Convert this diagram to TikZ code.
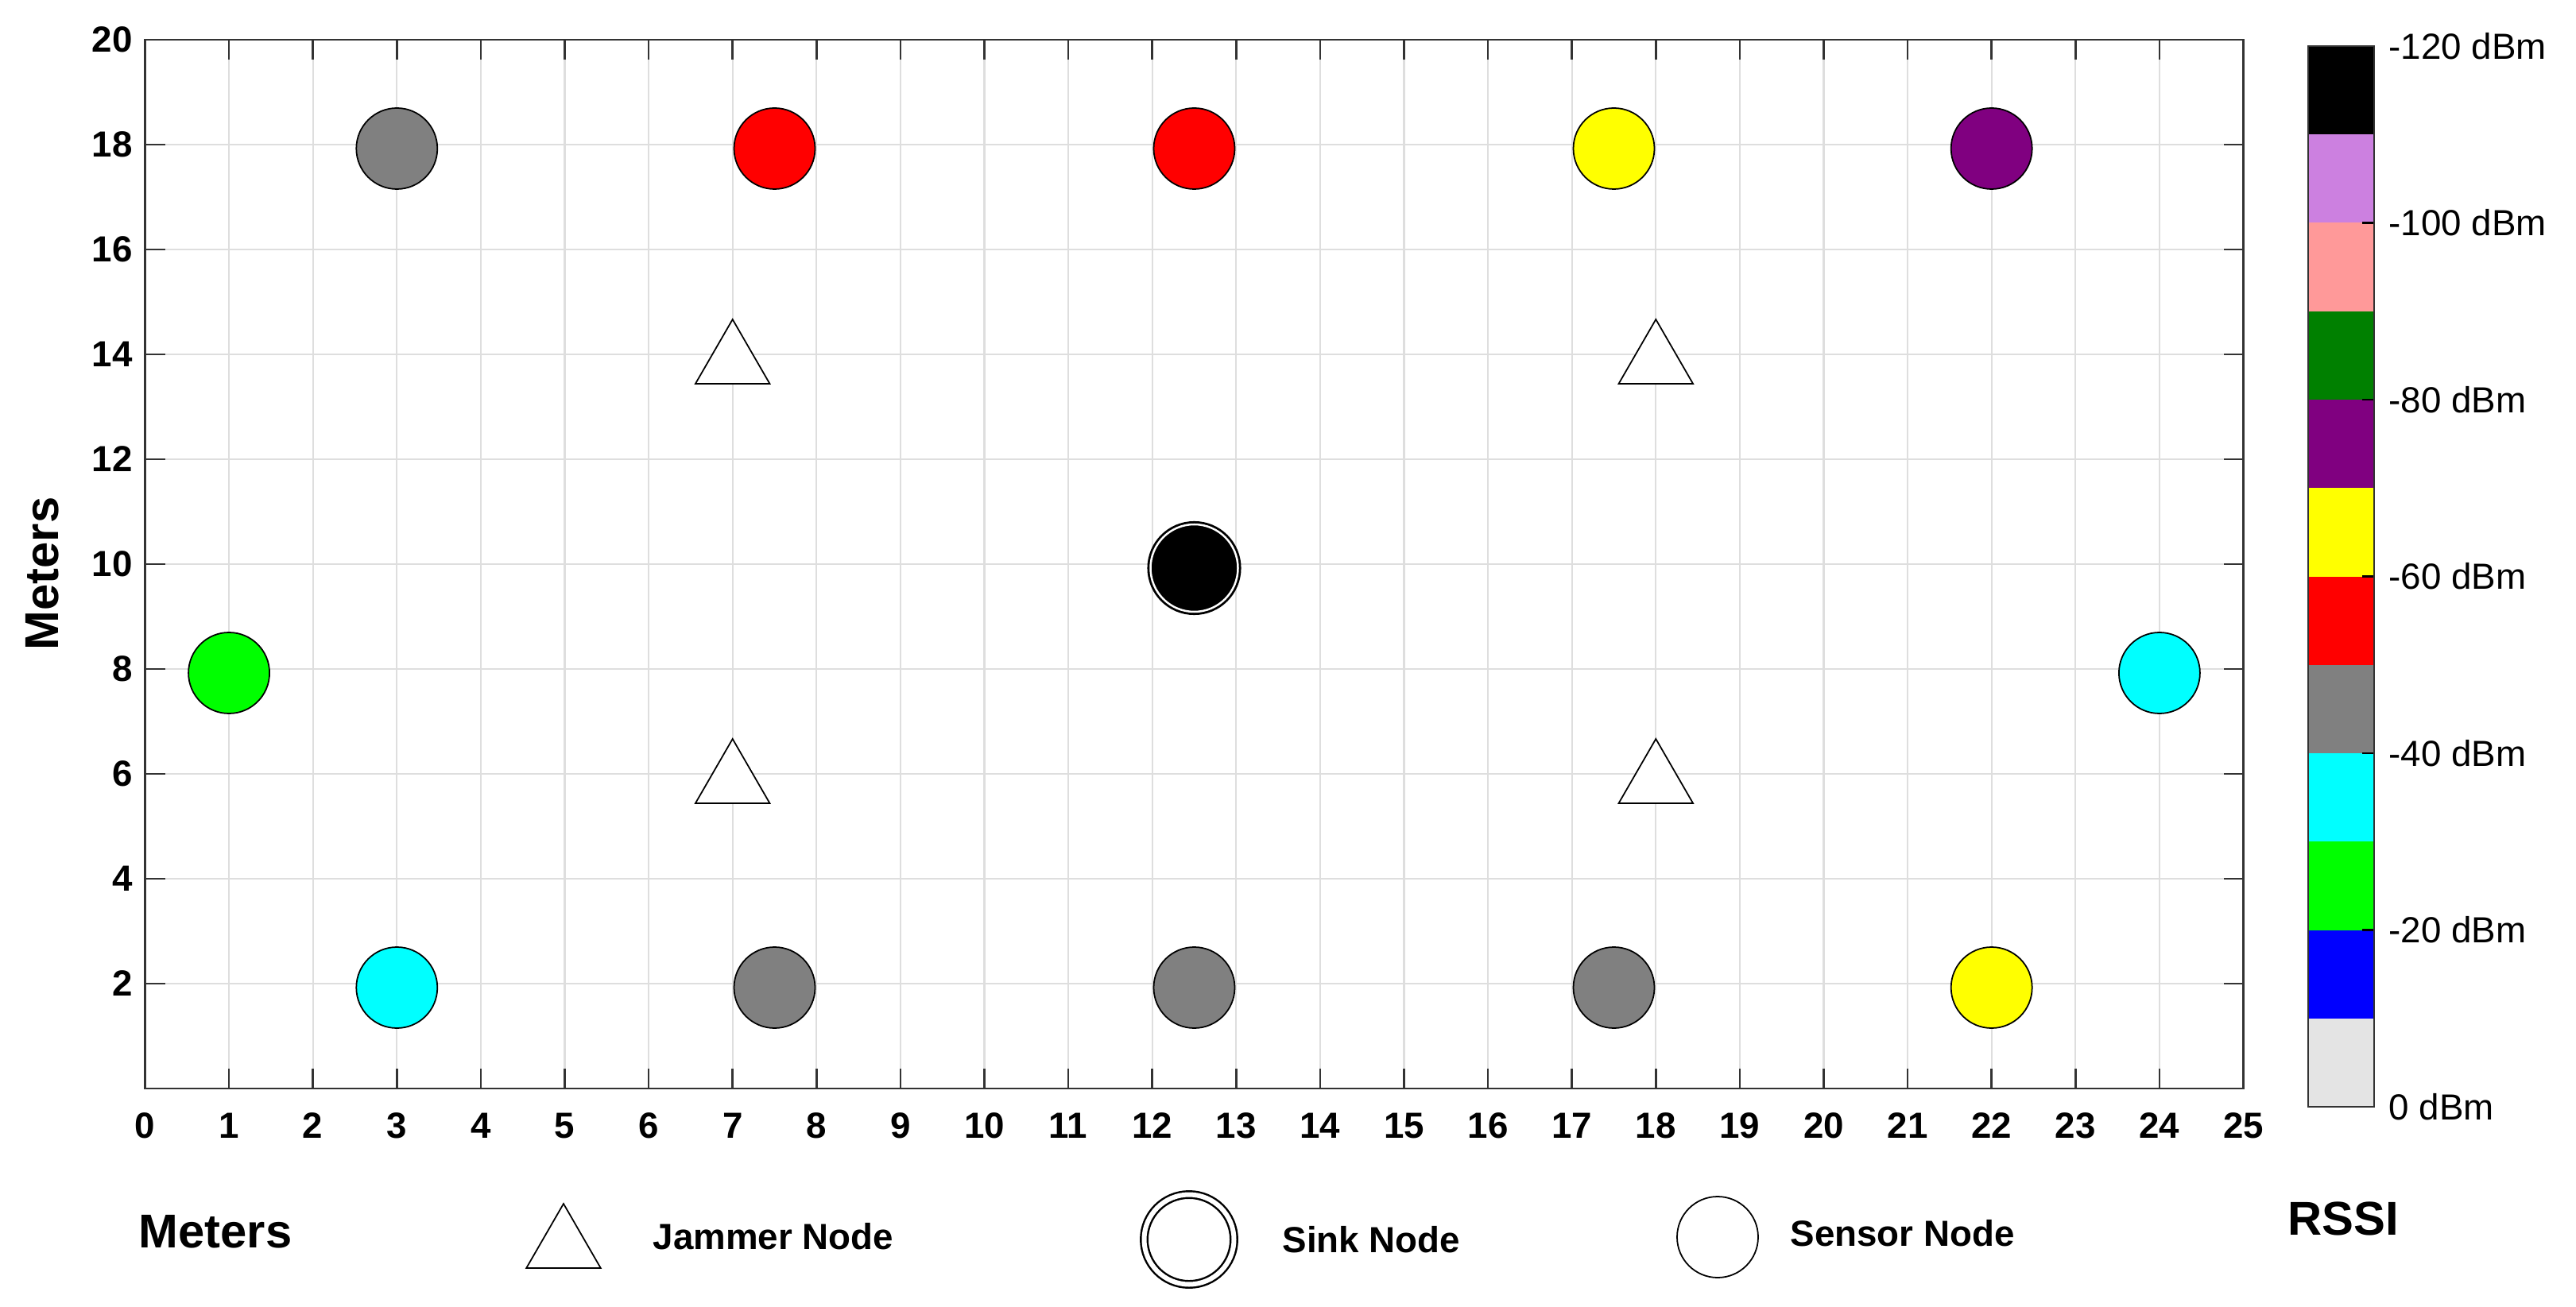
\documentclass[tikz,border=0pt]{standalone}
\usepackage{fontspec}
\setmainfont{Liberation Sans}
\usetikzlibrary{shapes.geometric, positioning}
\definecolor{rssigray}{RGB}{128,128,128}
\definecolor{rssired}{RGB}{255,0,0}
\definecolor{rssiyellow}{RGB}{255,255,0}
\definecolor{rssipurple}{RGB}{128,0,128}
\definecolor{rssigreen}{RGB}{0,255,0}
\definecolor{rssicyan}{RGB}{0,255,255}
\definecolor{rssiblue}{RGB}{0,0,255}
\definecolor{rssidarkgreen}{RGB}{0,128,0}
\definecolor{rssipink}{RGB}{255,153,153}
\definecolor{rssilavender}{RGB}{204,128,224}
\definecolor{rssilight}{RGB}{228,228,228}
\definecolor{gridgray}{RGB}{222,222,222}
\definecolor{axisgray}{RGB}{51,51,51}

\begin{document}
\begin{tikzpicture}[
    sensor/.style={circle, draw, line width=0.5pt, minimum size=1.02cm, inner sep=0pt, yshift=-0.05cm},
    sink/.style={circle, draw, fill=black, double=white, double distance=0.025cm, line width=0.8pt, minimum size=1.10cm, inner sep=0pt, yshift=-0.05cm},
    sinkleg/.style={circle, draw, fill=white, double=white, double distance=0.06cm, line width=0.7pt, minimum size=1.13cm, inner sep=0pt},
    jammer/.style={regular polygon, regular polygon sides=3, draw, line width=0.5pt, fill=white, minimum size=1.08cm, inner sep=0pt},
    ticklabel/.style={font=\fontsize{13}{13}\selectfont\bfseries, inner sep=0pt},
    barlabel/.style={font=\fontsize{13}{13}\selectfont, anchor=west, inner sep=0pt},
    legendlabel/.style={font=\fontsize{13}{13}\selectfont\bfseries, anchor=west, inner sep=0pt},
    titlelabel/.style={font=\fontsize{17}{17}\selectfont\bfseries, inner sep=0pt}
]
    \useasboundingbox (0,0) rectangle (32.41,16.44);

    % Field (meters)
    \begin{scope}[shift={(1.825,2.74)}, x=1.056cm, y=0.66cm]
        % Grid
        \foreach \i in {1,...,24}
            \draw[gridgray, line width=0.6pt] (\i,0) -- (\i,20);
        \foreach \j in {2,4,...,18}
            \draw[gridgray, line width=0.6pt] (0,\j) -- (25,\j);

        % Ticks
        \foreach \i in {1,...,24} {
            \draw[axisgray, line width=0.7pt] (\i,0) -- ++(0,0.25cm);
            \draw[axisgray, line width=0.7pt] (\i,20) -- ++(0,-0.25cm);
        }
        \foreach \j in {2,4,...,18} {
            \draw[axisgray, line width=0.7pt] (0,\j) -- ++(0.25cm,0);
            \draw[axisgray, line width=0.7pt] (25,\j) -- ++(-0.25cm,0);
        }
        \draw[axisgray, line width=0.8pt] (0,0) rectangle (25,20);

        % Tick labels
        \foreach \i in {0,...,25}
            \node[ticklabel, below=0.30cm] (xl\i) at (\i,0) {\i};
        \foreach \j in {2,4,...,20}
            \node[ticklabel, left=0.15cm] (yl\j) at (0,\j) {\j};

        % Jammer nodes
        \node[jammer, yshift=-0.1cm] (jam1) at (7,14) {};
        \node[jammer, yshift=-0.1cm] (jam2) at (18,14) {};
        \node[jammer, yshift=-0.1cm] (jam3) at (7,6) {};
        \node[jammer, yshift=-0.1cm] (jam4) at (18,6) {};

        % Sensor nodes
        \node[sensor, fill=rssigray] (top1) at (3,18) {};
        \node[sensor, fill=rssired] (top2) at (7.5,18) {};
        \node[sensor, fill=rssired] (top3) at (12.5,18) {};
        \node[sensor, fill=rssiyellow] (top4) at (17.5,18) {};
        \node[sensor, fill=rssipurple] (top5) at (22,18) {};
        \node[sensor, fill=rssigreen] (west) at (1,8) {};
        \node[sensor, fill=rssicyan] (east) at (24,8) {};
        \node[sensor, fill=rssicyan] (bot1) at (3,2) {};
        \node[sensor, fill=rssigray] (bot2) at (7.5,2) {};
        \node[sensor, fill=rssigray] (bot3) at (12.5,2) {};
        \node[sensor, fill=rssigray] (bot4) at (17.5,2) {};
        \node[sensor, fill=rssiyellow] (bot5) at (22,2) {};

        % Sink node
        \node[sink] (sinknode) at (12.5,10) {};
    \end{scope}

    % Colour bar
    \begin{scope}[shift={(29.04,2.51)}, y=1.1125cm]
        \foreach \c [count=\k] in {rssilight, rssiblue, rssigreen, rssicyan, rssigray, rssired,
                rssiyellow, rssipurple, rssidarkgreen, rssipink, rssilavender, black}
            \fill[\c] (0,\k-1) rectangle (0.83,\k);
        \foreach \j in {2,4,...,10}
            \draw[black, line width=0.6pt] (0.83,\j) -- ++(-0.15,0);
        \draw[axisgray, line width=0.7pt] (0,0) rectangle (0.83,12);
        \foreach \v [count=\k from 0] in {0,-20,-40,-60,-80,-100,-120}
            \node[barlabel] (cb\k) at (1.01,2*\k) {\v{} dBm};
    \end{scope}

    % Titles
    \node[titlelabel, rotate=90] (ytitle) at (0.53,9.22) {Meters};
    \node[titlelabel] (xtitle) at (2.71,0.94) {Meters};
    \node[titlelabel] (rssi) at (29.48,1.10) {RSSI};

    % Legend
    \node[jammer] (jleg) at (7.09,0.75) {};
    \node[legendlabel] (jtext) at (8.21,0.88) {Jammer Node};
    \node[sinkleg] (kleg) at (14.96,0.84) {};
    \node[legendlabel] (ktext) at (16.13,0.84) {Sink Node};
    \node[sensor, fill=white] (sleg) at (21.61,0.92) {};
    \node[legendlabel] (stext) at (22.52,0.92) {Sensor Node};
\end{tikzpicture}
\end{document}
